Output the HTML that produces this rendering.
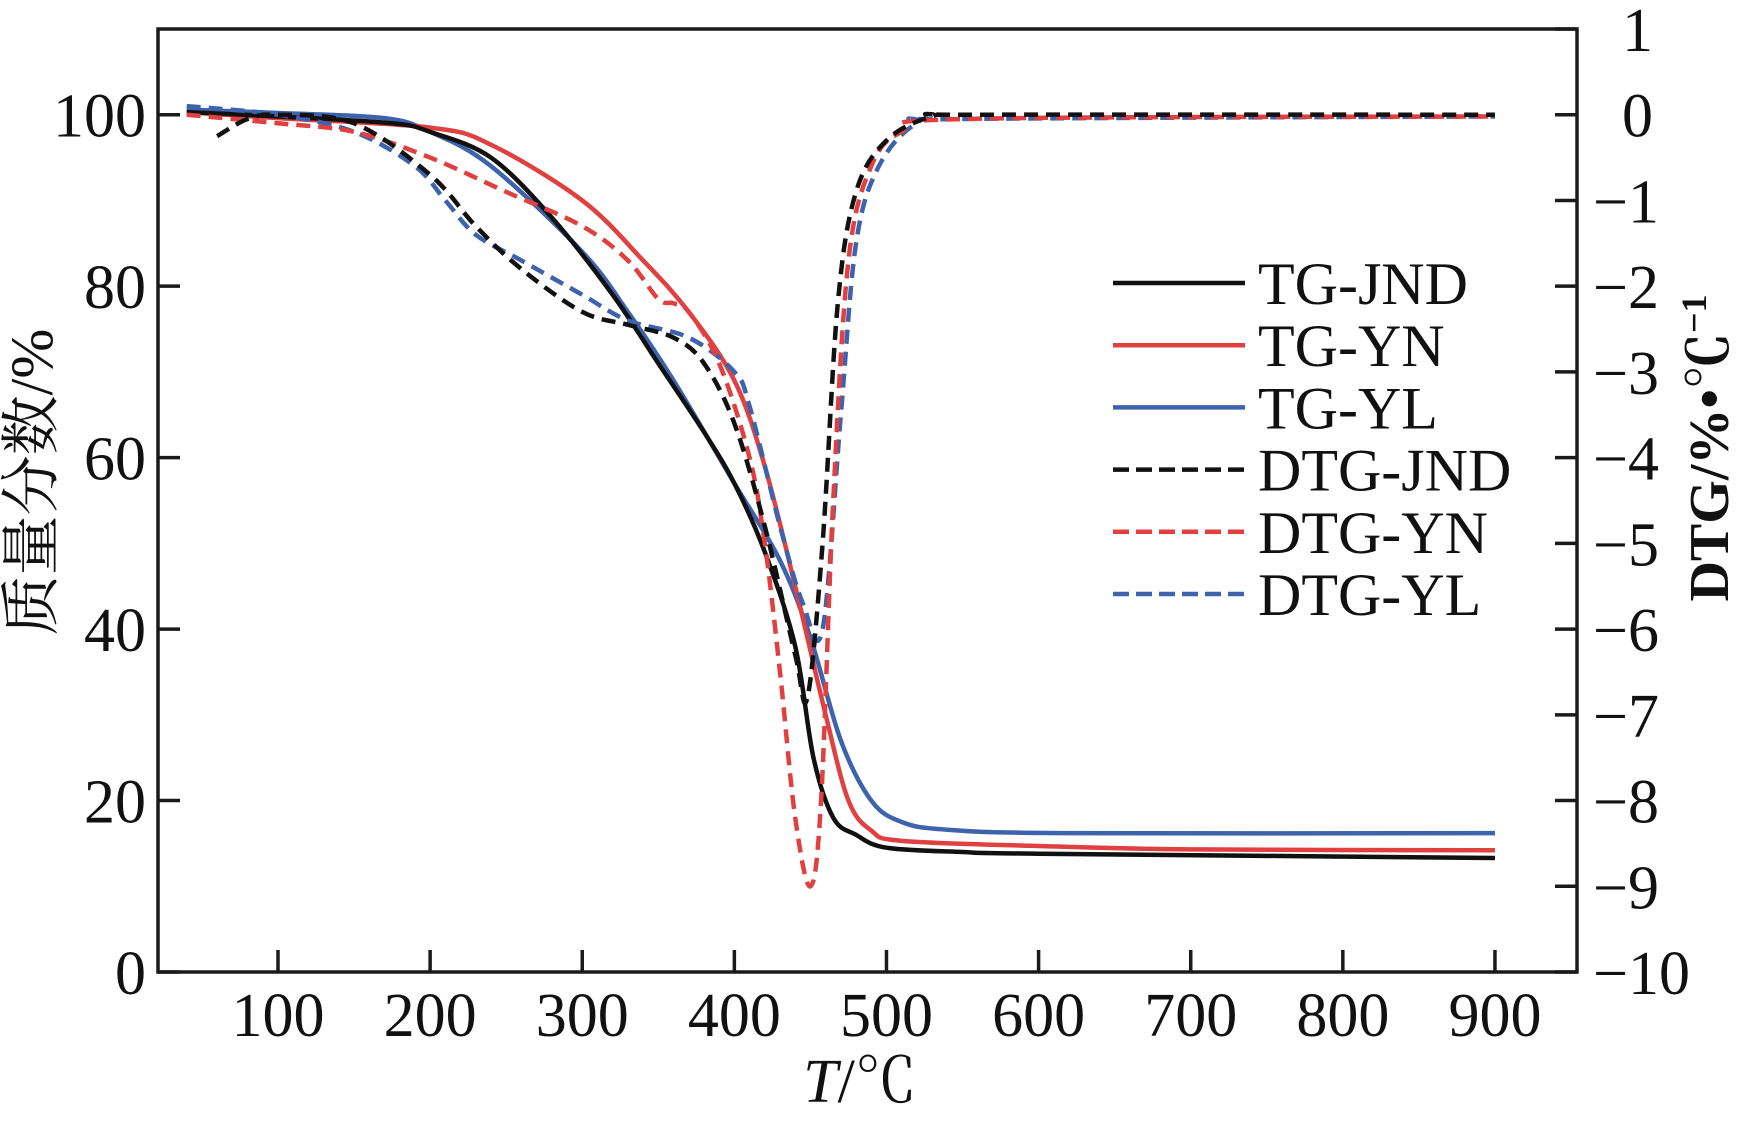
<!DOCTYPE html>
<html><head><meta charset="utf-8"><style>
html,body{margin:0;padding:0;background:#fff;}
svg text{font-family:"Liberation Serif","Noto Serif CJK SC",serif;fill:#111;}
</style></head><body>
<svg id="chart" width="1748" height="1122" viewBox="0 0 1748 1122" xmlns="http://www.w3.org/2000/svg">
<g id="plot"></g>
<g id="axes"></g>
<g id="legend"></g>
<text x="52" y="482" font-size="60" text-anchor="middle" transform="rotate(-90 52 482)">质量分数/%</text>
<text x="1728" y="448" font-size="56" font-weight="bold" text-anchor="middle" transform="rotate(-90 1728 448)">DTG/%•℃<tspan font-size="36" dy="-22">−1</tspan></text>
<text x="860" y="1102" font-size="62" text-anchor="middle"><tspan font-style="italic">T</tspan>/℃</text>
</svg>
<script>
const xTicks=[100,200,300,400,500,600,700,800,900];
const yTicksLeft=[0,20,40,60,80,100];
const yTicksRight=[-10,-9,-8,-7,-6,-5,-4,-3,-2,-1,0,1];
const tgJND_T=[40,100,175,200,240,280,320,350,380,400,420,440,452,465,480,500,550,600,900];
const tgJND_V=[100.3,99.8,99,98,95,88,79,71,63,57,49,38,25,18,16,14.5,14,13.8,13.3];
const tgYN_T=[40,100,200,240,300,340,370,400,420,440,460,475,490,510,600,700,900];
const tgYN_V=[100.3,99.6,98.5,96.5,90,83,77,69,59,45,30,20,16.5,15.3,14.7,14.3,14.2];
const tgYL_T=[40,100,170,200,240,300,330,360,400,430,450,470,490,510,540,620,900];
const tgYL_V=[100.6,100.2,99.6,98,94,84,77,69,57,48,39,27,20,17.5,16.6,16.2,16.2];
const dtgJND_T=[60,80,100,150,200,230,260,300,330,360,380,400,420,440,448,458,468,480,500,530,560,900];
const dtgJND_V=[-0.25,-0.05,0,-0.1,-0.7,-1.3,-1.8,-2.3,-2.45,-2.6,-2.9,-3.6,-4.8,-6.3,-6.8,-5.0,-2.2,-0.9,-0.3,-0.02,0,0];
const dtgYN_T=[40,100,150,200,250,300,330,350,360,370,390,410,420,430,440,450,457,465,475,490,510,550,900];
const dtgYN_V=[0,-0.1,-0.2,-0.5,-0.9,-1.3,-1.7,-2.15,-2.2,-2.3,-2.9,-4.0,-5.0,-6.5,-8.2,-9.0,-8.0,-4.5,-1.7,-0.6,-0.2,-0.05,-0.02];
const dtgYL_T=[40,100,150,190,210,230,260,300,330,370,400,410,430,445,458,470,480,495,520,550,900];
const dtgYL_V=[0.1,0,-0.2,-0.6,-1.0,-1.4,-1.7,-2.1,-2.4,-2.6,-3.0,-3.4,-4.8,-5.7,-6.0,-3.5,-1.5,-0.6,-0.1,-0.05,-0.02];

const L=158,T=29,R=1577,B=972;
const xS=t=>278+(t-100)*1.5212;
const yL=v=>B-(v/110)*(B-T);
const yR=v=>B-((v+10)/11)*(B-T);
const NS="http://www.w3.org/2000/svg";
function mk(tag,attrs,parent){const e=document.createElementNS(NS,tag);for(const k in attrs)e.setAttribute(k,attrs[k]);parent.appendChild(e);return e;}
function smooth(pts){let d=`M${pts[0][0]},${pts[0][1]}`;for(let i=0;i<pts.length-1;i++){const p0=pts[i-1]||pts[i],p1=pts[i],p2=pts[i+1],p3=pts[i+2]||p2;const c1=[p1[0]+(p2[0]-p0[0])/6,p1[1]+(p2[1]-p0[1])/6],c2=[p2[0]-(p3[0]-p1[0])/6,p2[1]-(p3[1]-p1[1])/6];d+=` C${c1[0]},${c1[1]} ${c2[0]},${c2[1]} ${p2[0]},${p2[1]}`;}return d;}
const plot=document.getElementById('plot'),axes=document.getElementById('axes'),leg=document.getElementById('legend');
const series=[
 ['tg-jnd',tgJND_T,tgJND_V,yL,'#111',null,'TG-JND'],
 ['tg-yn',tgYN_T,tgYN_V,yL,'#e04040',null,'TG-YN'],
 ['tg-yl',tgYL_T,tgYL_V,yL,'#3e63ad',null,'TG-YL'],
 ['dtg-jnd',dtgJND_T,dtgJND_V,yR,'#111','14 8','DTG-JND'],
 ['dtg-yn',dtgYN_T,dtgYN_V,yR,'#e04040','14 8','DTG-YN'],
 ['dtg-yl',dtgYL_T,dtgYL_V,yR,'#3e63ad','14 8','DTG-YL']];
const order=[2,1,0,5,4,3];
order.forEach(i=>{const s=series[i];const pts=s[1].map((t,j)=>[xS(t),s[3](s[2][j])]);
 const p=mk('path',{d:smooth(pts),fill:'none',stroke:s[4],'stroke-width':4.5},plot);
 if(s[5])p.setAttribute('stroke-dasharray',s[5]);
 
 });
series.forEach((s,i)=>{const y=283+i*62.2;
 const l=mk('line',{x1:1113,x2:1245,y1:y,y2:y,stroke:s[4],'stroke-width':4.5},leg);
 if(s[5])l.setAttribute('stroke-dasharray','16 7');
 
 
 const t=mk('text',{x:1258,y:y+21,'font-size':60},leg);t.textContent=s[6];
 
 });
const fr=mk('rect',{x:L,y:T,width:R-L,height:B-T,fill:'none',stroke:'#1a1a1a','stroke-width':3.5},axes);


xTicks.forEach(t=>{const x=xS(t);mk('line',{x1:x,x2:x,y1:B,y2:B-22,stroke:'#1a1a1a','stroke-width':3.5},axes);
 const tx=mk('text',{x:x,y:B+64,'font-size':62,'text-anchor':'middle'},axes);tx.textContent=t;
 
 });
yTicksLeft.forEach(v=>{const y=yL(v);mk('line',{x1:L,x2:L+22,y1:y,y2:y,stroke:'#1a1a1a','stroke-width':3.5},axes);
 const tx=mk('text',{x:146,y:y+22,'font-size':62,'text-anchor':'end'},axes);tx.textContent=v;
 
 });
yTicksRight.forEach(v=>{const y=yR(v);mk('line',{x1:R,x2:R-22,y1:y,y2:y,stroke:'#1a1a1a','stroke-width':3.5},axes);
 const tx=mk('text',{x:v<0?1593:1622,y:y+22,'font-size':62},axes);tx.textContent=(v<0?'−':'')+Math.abs(v);
 
 });
</script>
</body></html>
